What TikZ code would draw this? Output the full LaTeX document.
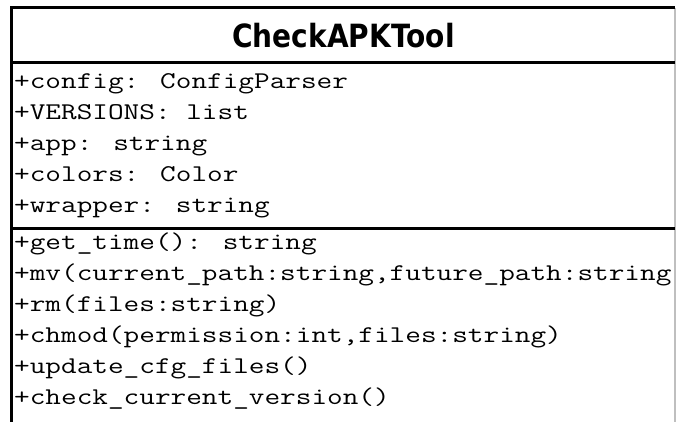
\documentclass[tikz,border=0pt]{standalone}
\usepackage{fontspec}
\newfontfamily\titlefamily{DejaVu Sans}

% class name and member text
\newcommand\classnamefont{\titlefamily\bfseries\fontsize{32}{32}\selectfont}
\newcommand\memberfont{\ttfamily\fontsize{24}{24}\selectfont}
\newcommand\classname[1]{\scalebox{0.876}[1]{#1}}
\newcommand\member[1]{\scalebox{1.266}[1]{#1}}

\tikzset{
  umlborder/.style={line width=3pt, black},
  umlside/.style={line width=1.5pt, black!25},
  titletext/.style={anchor=base, inner sep=0pt, font=\classnamefont},
  membertext/.style={anchor=base west, inner sep=0pt, font=\memberfont},
}

\begin{document}
\begin{tikzpicture}[x=1pt, y=-1pt]
  \useasboundingbox (0,0) rectangle (676,421);
  \fill[white] (0,0) rectangle (676,421);
  \clip (0,0) rectangle (676,421);

  % class box outline (continues below the visible area)
  \draw[umlside] (675.2,8) -- (675.2,440);
  \draw[umlborder] (11.5,440) -- (11.5,7) -- (674.5,7);
  \draw[umlborder] (10,62) -- (674.5,62);
  \draw[umlborder] (10,228) -- (674.5,228);

  % class name
  \node[titletext] (title) at (343.5,47.3) {\classname{CheckAPKTool}};

  % attributes
  \node[membertext] (attr1) at (14,88)  {\member{+config: ConfigParser}};
  \node[membertext] (attr2) at (14,119) {\member{+VERSIONS: list}};
  \node[membertext] (attr3) at (14,150) {\member{+app: string}};
  \node[membertext] (attr4) at (14,181) {\member{+colors: Color}};
  \node[membertext] (attr5) at (14,212) {\member{+wrapper: string}};

  % operations
  \node[membertext] (op1) at (14,249) {\member{+get\_time(): string}};
  \node[membertext] (op2) at (14,280) {\member{+mv(current\_path:string,future\_path:string}};
  \node[membertext] (op3) at (14,311) {\member{+rm(files:string)}};
  \node[membertext] (op4) at (14,342) {\member{+chmod(permission:int,files:string)}};
  \node[membertext] (op5) at (14,373) {\member{+update\_cfg\_files()}};
  \node[membertext] (op6) at (14,404) {\member{+check\_current\_version()}};
\end{tikzpicture}
\end{document}
